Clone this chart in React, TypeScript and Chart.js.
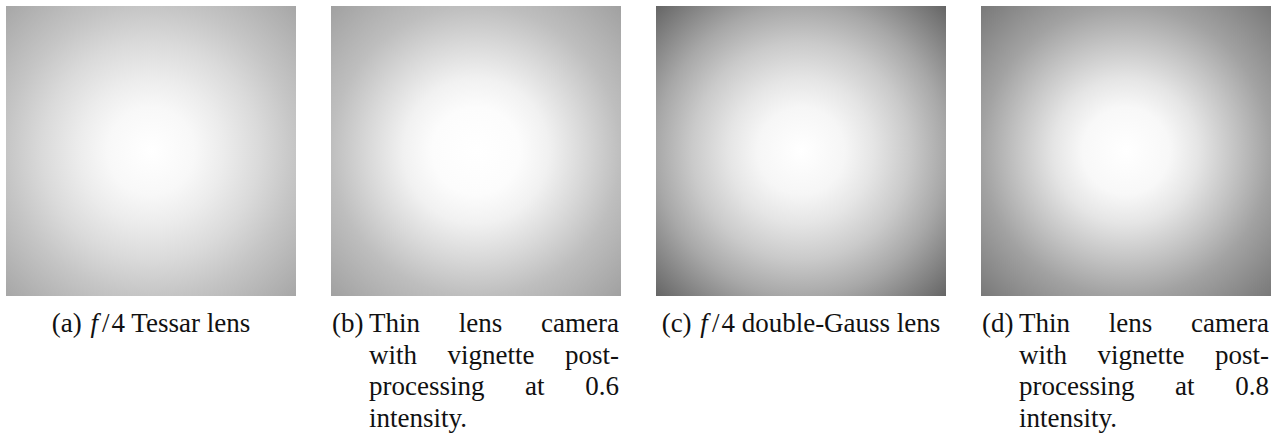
import React, { useEffect, useRef } from "react";
import { Chart, registerables } from "chart.js";

Chart.register(...registerables);

// Normalised radius from the image centre (1 = edge midpoint, ~1.414 = corner)
const RADII = [0, 0.3, 0.5, 0.75, 1.0, 1.42];
// Grey level (0-255)
const BRIGHT_A = [255, 248, 236, 218, 197, 166];
const BRIGHT_B = [255, 252, 241, 216, 190, 160];
const BRIGHT_C = [255, 246, 229, 202, 168, 100];
const BRIGHT_D = [255, 248, 229, 196, 162, 120];

const LABELS = ["(a)", "(b)", "(c)", "(d)"];

const vignettePlugin = {
  id: "vignette",
  beforeDatasetsDraw(chart: any, _args: any, opts: any) {
    const { ctx, chartArea, scales } = chart;
    const radii: number[] = opts.radii;
    const values: number[] = opts.values;
    const cx = scales.x.getPixelForValue(0);
    const cy = scales.y.getPixelForValue(0);
    const unit = scales.x.getPixelForValue(1) - cx;
    const maxR = radii[radii.length - 1];
    const g = ctx.createRadialGradient(cx, cy, 0, cx, cy, unit * maxR);
    radii.forEach((r, i) => {
      const v = Math.round(values[i]);
      g.addColorStop(r / maxR, `rgb(${v},${v},${v})`);
    });
    ctx.save();
    ctx.fillStyle = g;
    ctx.fillRect(
      chartArea.left,
      chartArea.top,
      chartArea.right - chartArea.left,
      chartArea.bottom - chartArea.top
    );
    ctx.restore();
  },
};

function Panel({ values, left }: { values: number[]; left: number }) {
  const ref = useRef<HTMLCanvasElement | null>(null);
  useEffect(() => {
    if (!ref.current) return;
    const chart = new Chart(ref.current, {
      type: "scatter",
      data: {
        datasets: [
          {
            data: RADII.map((r) => ({ x: r, y: 0 })),
            pointRadius: 0,
            showLine: false,
          },
        ],
      },
      options: {
        responsive: false,
        animation: false,
        devicePixelRatio: 1,
        layout: { padding: 0 },
        events: [],
        scales: {
          x: { type: "linear", min: -1, max: 1, display: false },
          y: { type: "linear", min: -1, max: 1, display: false },
        },
        plugins: {
          legend: { display: false },
          tooltip: { enabled: false },
          vignette: { radii: RADII, values },
        } as any,
      },
      plugins: [vignettePlugin as any],
    });
    return () => chart.destroy();
  }, [values]);
  return (
    <canvas
      ref={ref}
      width={290}
      height={290}
      style={{ position: "absolute", left, top: 6, width: 290, height: 290 }}
    />
  );
}

const F4 = () => (
  <>
    <span style={{ fontStyle: "italic", marginLeft: 2, marginRight: 4 }}>f</span>
    <span style={{ marginRight: 2 }}>/</span>4
  </>
);

const LH = 31.7;

function SingleCaption({ left, children }: { left: number; children: any }) {
  return (
    <div
      style={{
        position: "absolute",
        left,
        top: 308,
        width: 290,
        textAlign: "center",
        lineHeight: `${LH}px`,
        whiteSpace: "nowrap",
      }}
    >
      {children}
    </div>
  );
}

function HangCaption({ left, label, lines }: { left: number; label: string; lines: string[] }) {
  return (
    <div
      style={{
        position: "absolute",
        left,
        top: 308,
        width: 287,
        display: "flex",
        lineHeight: `${LH}px`,
      }}
    >
      <div style={{ width: 37, flex: "none" }}>{label}</div>
      <div style={{ width: 250 }}>
        {lines.map((l, i) => (
          <div
            key={i}
            style={
              i < lines.length - 1
                ? { whiteSpace: "nowrap" as any, display: "flex", justifyContent: "space-between" }
                : { textAlign: "left" }
            }
          >
            {i < lines.length - 1
              ? l.split(" ").map((w, j) => <span key={j}>{w}</span>)
              : l}
          </div>
        ))}
      </div>
    </div>
  );
}

const CAPTION_B = ["Thin lens camera", "with vignette post-", "processing at 0.6", "intensity."];
const CAPTION_D = ["Thin lens camera", "with vignette post-", "processing at 0.8", "intensity."];

export default function App() {
  return (
    <div
      style={{
        position: "absolute",
        left: 0,
        top: 0,
        width: 1279,
        height: 434,
        background: "#fff",
        overflow: "hidden",
        fontFamily: "'Liberation Serif', 'Times New Roman', serif",
        fontSize: "27px",
        color: "#111",
      }}
    >
      <Panel values={BRIGHT_A} left={6} />
      <Panel values={BRIGHT_B} left={331} />
      <Panel values={BRIGHT_C} left={656} />
      <Panel values={BRIGHT_D} left={981} />
      <SingleCaption left={6}>
        {LABELS[0]} <F4 /> Tessar lens
      </SingleCaption>
      <HangCaption left={332} label={LABELS[1]} lines={CAPTION_B} />
      <SingleCaption left={656}>
        {LABELS[2]} <F4 /> double-Gauss lens
      </SingleCaption>
      <HangCaption left={982} label={LABELS[3]} lines={CAPTION_D} />
    </div>
  );
}
